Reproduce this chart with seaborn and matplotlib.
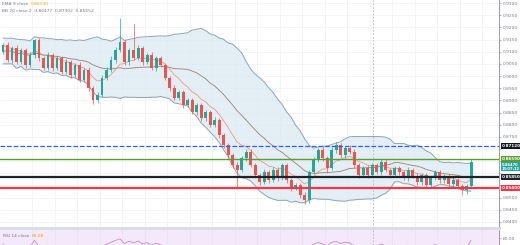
import numpy as np
import pandas as pd
import seaborn as sns
import matplotlib.pyplot as plt

# daily closes (open = previous close)
closes = [
    0.9127, 0.9066, 0.9115, 0.9058, 0.9107, 0.9045, 0.9086, 0.9148, 0.9074, 0.9033,
    0.9086, 0.9033, 0.9074, 0.9017, 0.9058, 0.9004, 0.9045, 0.8984, 0.9025, 0.8951,
    0.8901, 0.8922, 0.8992, 0.9025, 0.9066, 0.9107, 0.9140, 0.9058, 0.9107, 0.9074,
    0.9115, 0.9058, 0.9086, 0.9033, 0.9074, 0.9045, 0.8992, 0.8951, 0.8910, 0.8934,
    0.8881, 0.8901, 0.8852, 0.8881, 0.8827, 0.8852, 0.8799, 0.8819, 0.8758, 0.8716,
    0.8675, 0.8634, 0.8614, 0.8663, 0.8688, 0.8634, 0.8593, 0.8565, 0.8606, 0.8573,
    0.8614, 0.8581, 0.8634, 0.8573, 0.8540, 0.8552, 0.8511, 0.8490, 0.8606, 0.8655,
    0.8696, 0.8663, 0.8622, 0.8696, 0.8716, 0.8675, 0.8704, 0.8688, 0.8634, 0.8593,
    0.8622, 0.8593, 0.8634, 0.8606, 0.8647, 0.8614, 0.8593, 0.8622, 0.8606, 0.8581,
    0.8614, 0.8589, 0.8565, 0.8593, 0.8552, 0.8581, 0.8606, 0.8573, 0.8589, 0.8556,
    0.8573, 0.8548, 0.8532, 0.8548, 0.8647,
]
first_open = 0.9100

# wick lengths in pips
wick_up = [
    10, 14, 8, 12, 10, 8, 12, 6, 10, 8, 12, 9, 10, 8, 12,
    8, 10, 12, 9, 10, 8, 14, 12, 10, 15, 12, 100, 14, 10, 105,
    12, 10, 8, 12, 10, 10, 8, 9, 12, 10, 8, 10, 9, 8, 10,
    8, 10, 12, 9, 8, 10, 8, 12, 10, 12, 10, 8, 9, 10, 8,
    10, 12, 8, 10, 8, 9, 10, 12, 8, 12, 10, 15, 10, 12, 14,
    10, 8, 12, 10, 8, 10, 12, 9, 8, 10, 12, 8, 10, 9, 8,
    10, 8, 12, 10, 8, 10, 9, 8, 10, 8, 10, 9, 8, 10, 12,
]
wick_dn = [
    10, 8, 12, 10, 9, 12, 8, 10, 12, 10, 8, 12, 10, 9, 10,
    12, 10, 8, 10, 12, 14, 12, 10, 8, 10, 12, 10, 12, 14, 10,
    10, 12, 8, 10, 12, 9, 10, 12, 10, 8, 12, 10, 9, 12, 10,
    12, 10, 8, 12, 10, 14, 12, 80, 10, 12, 10, 14, 12, 10, 12,
    10, 12, 10, 14, 12, 10, 12, 15, 12, 10, 8, 12, 20, 10, 12,
    10, 12, 10, 12, 14, 10, 12, 8, 10, 12, 10, 12, 10, 12, 10,
    12, 10, 14, 12, 10, 12, 10, 14, 12, 10, 12, 14, 20, 18, 10,
]

levels = [0.8712, 0.8659, 0.8585, 0.8540]
level_labels = ['0.87120', '0.86590', '0.85850', '0.85400']
level_colors = ['#2962ff', '#5b9c35', '#1e2329', '#f23645']
level_styles = ['--', '-', '-', '-']
level_widths = [0.9, 1.0, 1.6, 1.6]
level_boxes = ['#131722', '#5b9c35', '#1e2329', '#f23645']
price_ticks = [0.8400, 0.8450, 0.8500, 0.8550, 0.8600, 0.8650, 0.8700, 0.8750, 0.8800,
               0.8850, 0.8900, 0.8950, 0.9000, 0.9050, 0.9100, 0.9150, 0.9200, 0.9250, 0.9300]
hidden_ticks = [0.8550, 0.8600, 0.8650, 0.8700]
last_price = 0.8647
rsi_ticks = [60.00]

df = pd.DataFrame({'close': closes})
df['open'] = df['close'].shift(1).fillna(first_open)
df['high'] = df[['open', 'close']].max(axis=1) + np.array(wick_up) * 1e-4
df['low'] = df[['open', 'close']].min(axis=1) - np.array(wick_dn) * 1e-4
df['i'] = np.arange(len(df))

# indicators
df['basis'] = df['close'].rolling(20, min_periods=3).mean()
sd = df['close'].rolling(20, min_periods=3).std(ddof=0)
df['upper'] = (df['basis'] + 2 * sd).bfill()
df['lower'] = (df['basis'] - 2 * sd).bfill()
df['basis'] = df['basis'].bfill()
df['ema'] = df['close'].ewm(span=9, adjust=False).mean()
delta = df['close'].diff().fillna(0)
gain = delta.clip(lower=0).ewm(alpha=1 / 14, adjust=False).mean()
loss = (-delta.clip(upper=0)).ewm(alpha=1 / 14, adjust=False).mean()
df['rsi'] = 100 - 100 / (1 + gain / loss.replace(0, np.nan))
df['rsi'] = df['rsi'].fillna(50)

sns.set_theme(style='white')
plt.rcParams['font.family'] = ['DejaVu Sans']

fig = plt.figure(figsize=(5.2, 2.45), dpi=100)
ax = fig.add_axes([0, 17 / 245, 499 / 520, 228 / 245])
ax_rsi = fig.add_axes([0, 0, 499 / 520, 15 / 245])

xlim = (-0.67, 110.2)
grid_x = np.arange(6.5, 110, 5)

# Bollinger bands
ax.fill_between(df['i'], df['lower'], df['upper'], color='#dbe9f2', alpha=0.75, lw=0, zorder=1)
sns.lineplot(x=df['i'], y=df['upper'], ax=ax, color='#8fa4b3', lw=0.7, zorder=2)
sns.lineplot(x=df['i'], y=df['lower'], ax=ax, color='#8fa4b3', lw=0.7, zorder=2)
sns.lineplot(x=df['i'], y=df['basis'], ax=ax, color='#9b8174', lw=0.6, zorder=2)
sns.lineplot(x=df['i'], y=df['ema'], ax=ax, color='#f08a6c', lw=0.5, zorder=2)

# candles
up = df['close'] >= df['open']
colors = np.where(up, '#26a69a', '#ef5350')
ax.vlines(df['i'], df['low'], df['high'], colors=colors, lw=0.5, zorder=3)
ax.bar(df['i'], (df['close'] - df['open']).abs().clip(lower=0.00015),
       bottom=df[['open', 'close']].min(axis=1), width=0.65, color=colors, lw=0, zorder=4)

# horizontal levels
for lv, c, ls, lw in zip(levels, level_colors, level_styles, level_widths):
    ax.axhline(lv, color=c, ls=ls, lw=lw, zorder=5)

ax.axvline(82.2, color='#b2b5be', ls=(0, (2, 2)), lw=0.6, zorder=1)
ax_rsi.axvline(82.2, color='#b2b5be', ls=(0, (2, 2)), lw=0.6)

ax.set_xlim(*xlim)
ax.set_ylim(0.83753, 0.93124)
ax.set_xticks(grid_x)
ax.set_yticks(price_ticks)
ax.set_yticklabels(['' if t in hidden_ticks else f'{t:.4f}' for t in price_ticks])
ax.yaxis.tick_right()
ax.tick_params(axis='y', labelsize=3.2, colors='#787b86', length=1.5, pad=1.5, width=0.4)
ax.tick_params(axis='x', length=0, labelbottom=False)
ax.grid(True, color='#eef0f4', lw=0.5, zorder=0)
ax.set_xlabel('')
ax.set_ylabel('')
for s in ['top', 'left']:
    ax.spines[s].set_visible(False)
ax.spines['right'].set_color('#8a8d96')
ax.spines['right'].set_linewidth(0.6)
ax.spines['bottom'].set_color('#d8dbe2')
ax.spines['bottom'].set_linewidth(2)

# price label boxes on the axis
for lv, lab, c in zip(levels, level_labels, level_boxes):
    ax.annotate(lab, xy=(1, lv), xycoords=('axes fraction', 'data'),
                xytext=(2, 0), textcoords='offset points', fontsize=3.0, color='white',
                fontweight='bold', va='center', ha='left',
                bbox=dict(boxstyle='square,pad=0.25', fc=c, ec='none'), zorder=10,
                annotation_clip=False)
ax.annotate(f'{last_price:.5f}\n13:07:12', xy=(1, last_price - 0.0019),
            xycoords=('axes fraction', 'data'), xytext=(2, 0), textcoords='offset points',
            fontsize=2.6, color='white', fontweight='bold', va='center', ha='left',
            linespacing=1.0, bbox=dict(boxstyle='square,pad=0.2', fc='#26a69a', ec='none'),
            zorder=11, annotation_clip=False)

# legend texts
t1 = fig.text(0.004, 0.992, 'EMA 9 close', fontsize=3.2, color='#787b86', va='top')
ax.annotate('0.86130', xy=(1, 1), xycoords=t1, xytext=(1.5, 0), textcoords='offset points',
            fontsize=3.2, color='#f7a600', va='top', ha='left', annotation_clip=False)
fig.text(0.004, 0.962, 'BB 20 close 2  0.86477  0.87302  0.85652', fontsize=3.2,
         color='#787b86', va='top')

# RSI panel
ax_rsi.set_facecolor('#f4e9fb')
sns.lineplot(x=df['i'], y=df['rsi'], ax=ax_rsi, color='#c58bd1', lw=0.6)
ax_rsi.set_xlim(*xlim)
ax_rsi.set_ylim(48, 74)
ax_rsi.set_xticks(grid_x)
ax_rsi.set_yticks(rsi_ticks)
ax_rsi.set_yticklabels([f'{t:.2f}' for t in rsi_ticks])
ax_rsi.yaxis.tick_right()
ax_rsi.tick_params(axis='y', labelsize=3.2, colors='#787b86', length=1.5, pad=1.5, width=0.4)
ax_rsi.tick_params(axis='x', length=0, labelbottom=False)
ax_rsi.grid(True, axis='x', color='#ebe0f2', lw=0.5)
ax_rsi.set_xlabel('')
ax_rsi.set_ylabel('')
for s in ['top', 'left', 'bottom']:
    ax_rsi.spines[s].set_visible(False)
ax_rsi.spines['right'].set_color('#8a8d96')
ax_rsi.spines['right'].set_linewidth(0.6)
t2 = ax_rsi.text(0.006, 0.62, 'RSI 14 close', transform=ax_rsi.transAxes, fontsize=3.2,
                 color='#787b86', va='center')
ax_rsi.annotate('66.08', xy=(1, 0.5), xycoords=t2, xytext=(1.5, 0), textcoords='offset points',
                fontsize=3.2, color='#f7a600', va='center', ha='left', annotation_clip=False)

fig.savefig('out.png', dpi=100)
